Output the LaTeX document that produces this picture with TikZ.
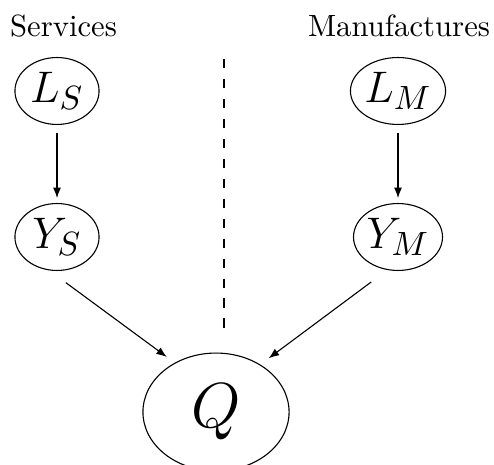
\documentclass[tikz,border=0pt]{standalone}
\usetikzlibrary{shapes.geometric,arrows.meta}
\begin{document}
\begin{tikzpicture}[x=0.3257pt,y=-0.3257pt,line width=0.36pt,
  var/.style={draw,ellipse,inner sep=0pt,minimum width=27.4pt,minimum height=21.8pt,font=\fontsize{15.2}{18}\selectfont},
  big/.style={draw,ellipse,inner sep=0pt,minimum width=47.6pt,minimum height=38.4pt,font=\huge},
  lbl/.style={anchor=base,inner sep=0pt},
  arr/.style={-{Latex[length=3.4pt,width=2.6pt]}},
  sep/.style={dash pattern=on 3pt off 3.5pt}]
\useasboundingbox (0,0) rectangle (494,465);
\node[lbl] (ts) at (63.5,37) {Services};
\node[lbl] (tm) at (399,37) {Manufactures};
\node[var] (ls) at (57,91) {$L_S$};
\node[var] (lm) at (398,91) {$L_M$};
\node[var] (ys) at (57,237) {$Y_S$};
\node[var] (ym) at (398,237) {$Y_M$};
\node[big] (q) at (216,412) {$Q$};
\coordinate (dtop) at (224,59);
\coordinate (dbot) at (224,333);
\draw[sep] (dtop) -- (dbot);
\draw[arr, shorten <=2.6pt, shorten >=1.6pt] (ls) -- (ys);
\draw[arr, shorten <=2.6pt, shorten >=1.6pt] (lm) -- (ym);
\draw[arr, shorten <=6.7pt, shorten >=3.2pt] (ys.-103) -- (q.130);
\draw[arr, shorten <=6.5pt, shorten >=3.4pt] (ym.-108) -- (q.47);
\end{tikzpicture}
\end{document}
